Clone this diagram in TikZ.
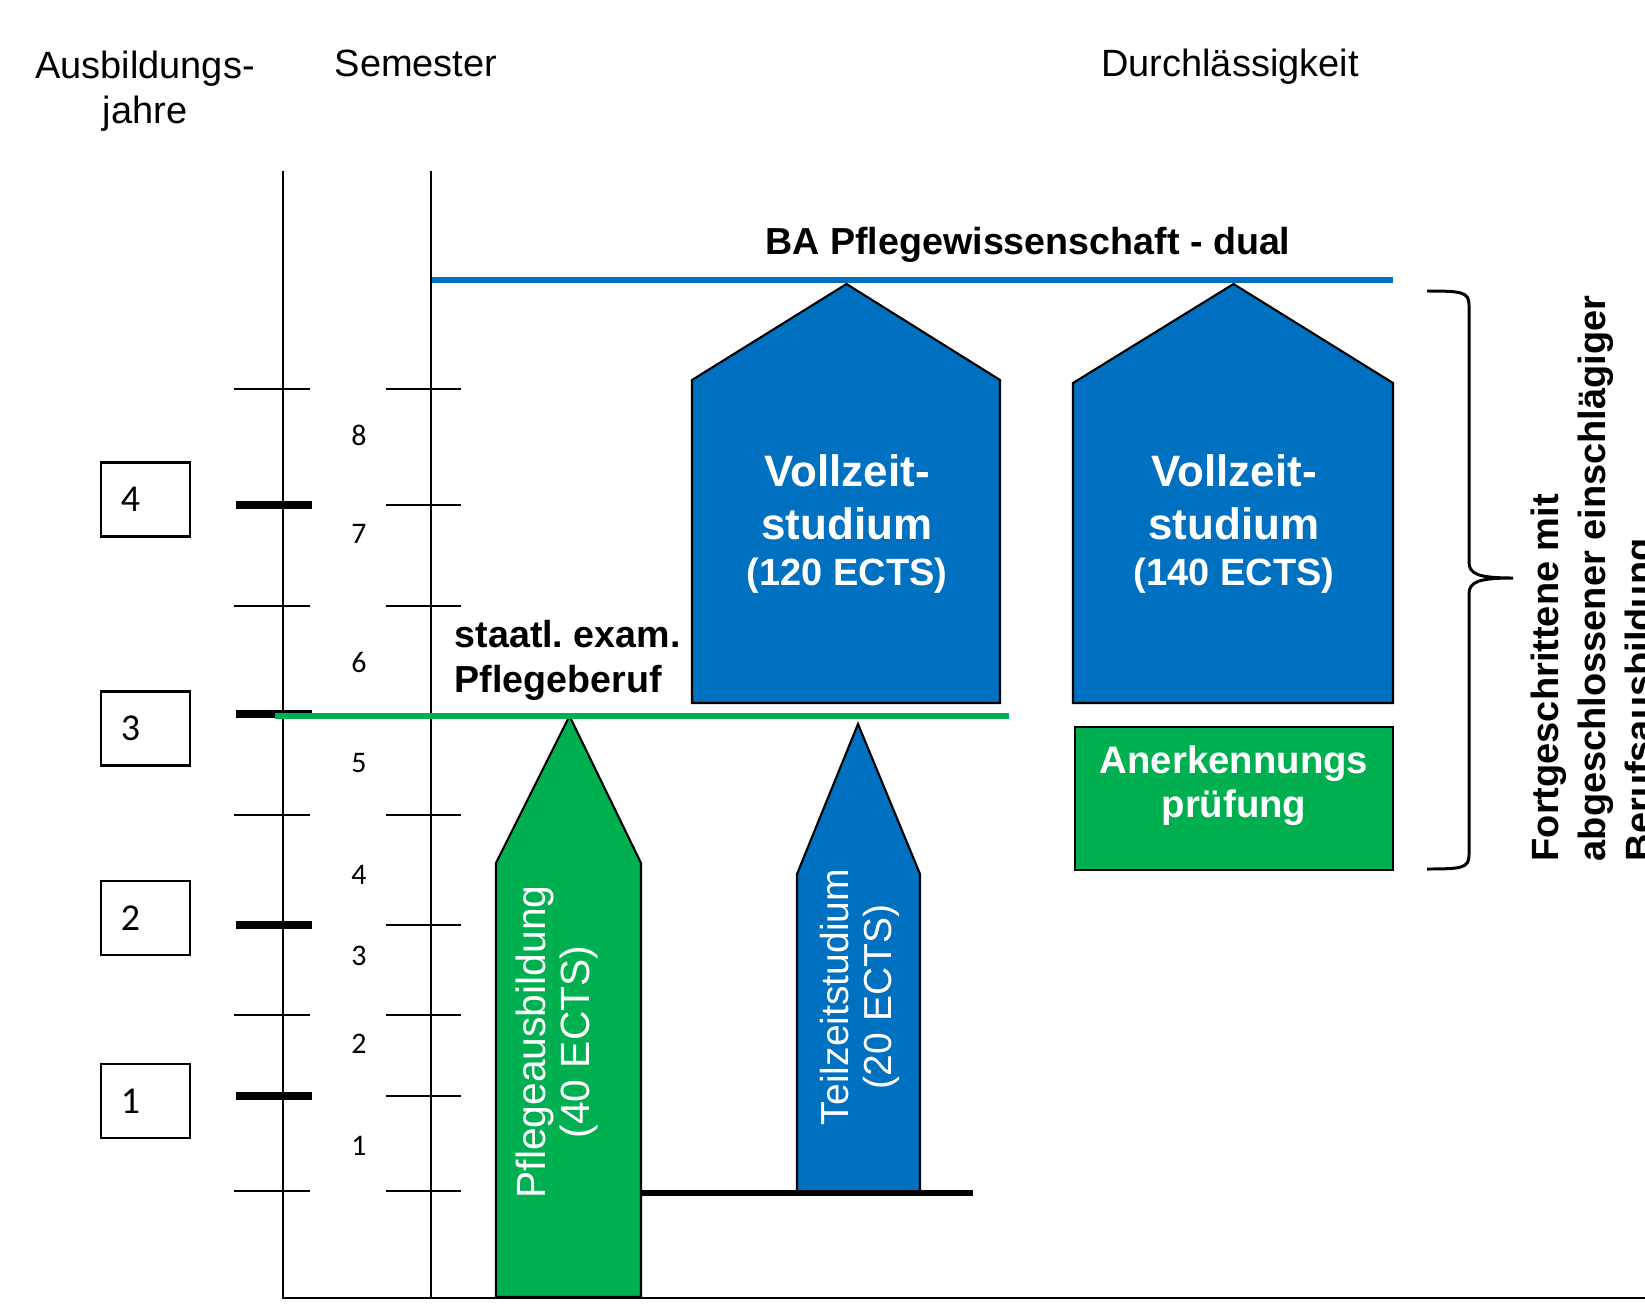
\documentclass[tikz,border=0pt]{standalone}
\usepackage{fontspec}
\setmainfont{Liberation Sans}
\newfontfamily\calfont{Carlito}
\definecolor{pblau}{HTML}{0070C0}
\definecolor{pgruen}{HTML}{00B050}

\tikzset{
  achse/.style={line width=0.65pt},
  jahrtick/.style={line width=2pt},
  jahrbox/.style={draw, line width=0.65pt, minimum height=0.74cm, text width=0.49cm,
    inner xsep=0.2cm, align=left, font=\calfont\fontsize{10.8}{13}\selectfont},
  semzahl/.style={font=\calfont\fontsize{8.5}{10}\selectfont},
  kopf/.style={font=\fontsize{10.8}{12.8}\selectfont, align=center, inner sep=0pt},
  fett/.style={font=\bfseries\fontsize{10.7}{12.8}\selectfont, inner sep=0pt},
  haus/.style={draw=black, line width=0.6pt},
  weiss/.style={text=white, align=center}
}

\begin{document}
\begin{tikzpicture}[x=0.01cm, y=-0.01cm]
        \useasboundingbox (0,0) rectangle (1645,1306);
        \clip (0,0) rectangle (1645,1306);

        %%%%%%%%% Kopf %%%%%%%%%%
        \node[kopf, anchor=north] (jahre) at (145,50) {Ausbildungs-\\jahre};
        \node[kopf, anchor=base] (semester) at (416,77) {Semester};
        \node[kopf, anchor=base] (durchl) at (1230,77) {Durchlässigkeit};

        %%%%%%%%% Achsen %%%%%%%%%
        \draw[achse] (283,171) -- (283,1298) -- (1645,1298);
        \draw[achse] (431,171) -- (431,1298);

        %%%%%%%%% Striche %%%%%%%%
        \foreach \y in {389,606,815,1015,1191}
            \draw[achse] (234,\y) -- (310,\y);
        \foreach \y in {505,714,925,1096}
            \draw[jahrtick] (236,\y) -- (312,\y);
        \foreach \y in {389,505,606,714,815,925,1015,1096,1191}
            \draw[achse] (386,\y) -- (461,\y);

        %%%%%%%%% Semester %%%%%%%%
        \foreach \n/\y in {8/435,7/534,6/663,5/763,4/875,3/956,2/1044,1/1146}
            \node[semzahl] (sem\n) at (359,\y) {\n};

        %%%%%%%%% Jahre %%%%%%%%%%
        \node[jahrbox] (j4) at (145.5,499.5) {4};
        \node[jahrbox] (j3) at (145.5,728.5) {3};
        \node[jahrbox] (j2) at (145.5,918) {2};
        \node[jahrbox] (j1) at (145.5,1101) {1};

        %%%%%%%%% Bachelor %%%%%%%
        \node[fett, anchor=base] (ba) at (1028,254) {BA Pflegewissenschaft - dual};
        \draw[pblau, line width=1.7pt] (432,280) -- (1393,280);

        %%%%%%%% Vollzeit %%%%%%%%
        \draw[haus, fill=pblau] (692,703) -- (692,380) -- (846.5,284) -- (1000,380) -- (1000,703) -- cycle;
        \draw[haus, fill=pblau] (1073,703) -- (1073,383) -- (1233.5,284) -- (1393,383) -- (1393,703) -- cycle;
        \node[weiss, font=\bfseries\fontsize{12.5}{13}\selectfont] (vz120) at (847,524)
            {Vollzeit-\\[2pt]studium\\\fontsize{10.8}{13}\selectfont(120 ECTS)};
        \node[weiss, font=\bfseries\fontsize{12.5}{13}\selectfont] (vz140) at (1234,524)
            {Vollzeit-\\[2pt]studium\\\fontsize{10.8}{13}\selectfont(140 ECTS)};

        %%%%%%% Anerkennung %%%%%%%
        \draw[haus, fill=pgruen] (1075,727) rectangle (1393,870);
        \node[weiss, font=\bfseries\fontsize{10.9}{12.5}\selectfont] (anerk) at (1234,786)
            {Anerkennungs\\prüfung};

        %%%%%%% Pflegeausbildung %%%%%%%
        \draw[haus, fill=pgruen] (496,1297) -- (496,863) -- (569.5,716) -- (641,863) -- (641,1297) -- cycle;
        \node[weiss, rotate=90, font=\fontsize{11.6}{12.5}\selectfont] (pflege) at (557,1042)
            {Pflegeausbildung\\(40 ECTS)};

        %%%%%%%% Teilzeit %%%%%%%%
        \draw[haus, fill=pblau] (797,1193) -- (797,874) -- (858,724) -- (920,874) -- (920,1193) -- cycle;
        \node[weiss, rotate=90, font=\fontsize{11.1}{12.2}\selectfont] (teilzeit) at (860,997)
            {Teilzeitstudium\\(20 ECTS)};
        \draw[line width=1.7pt] (641,1193) -- (973,1193);

        %%%%%%%% Examen %%%%%%%%%%
        \node[fett, anchor=north west, align=left] (examen) at (454,620) {staatl.\ exam.\\Pflegeberuf};
        \draw[pgruen, line width=1.7pt] (275,716) -- (1009,716);

        %%%%%%%% Klammer %%%%%%%%%
        \draw[line width=0.85pt] (1427,291) .. controls (1462,291) and (1469,292) .. (1469,305)
            -- (1469,562) .. controls (1469,574) and (1478,578) .. (1513,578)
            .. controls (1478,578) and (1469,582) .. (1469,594)
            -- (1469,855) .. controls (1469,868) and (1462,869) .. (1427,869);
        \node[fett, rotate=90, anchor=north west, align=left,
              font=\bfseries\fontsize{10.8}{13.4}\selectfont] (fortg) at (1530,862)
            {Fortgeschrittene mit\\abgeschlossener einschlägiger\\Berufsausbildung};
\end{tikzpicture}
\end{document}
